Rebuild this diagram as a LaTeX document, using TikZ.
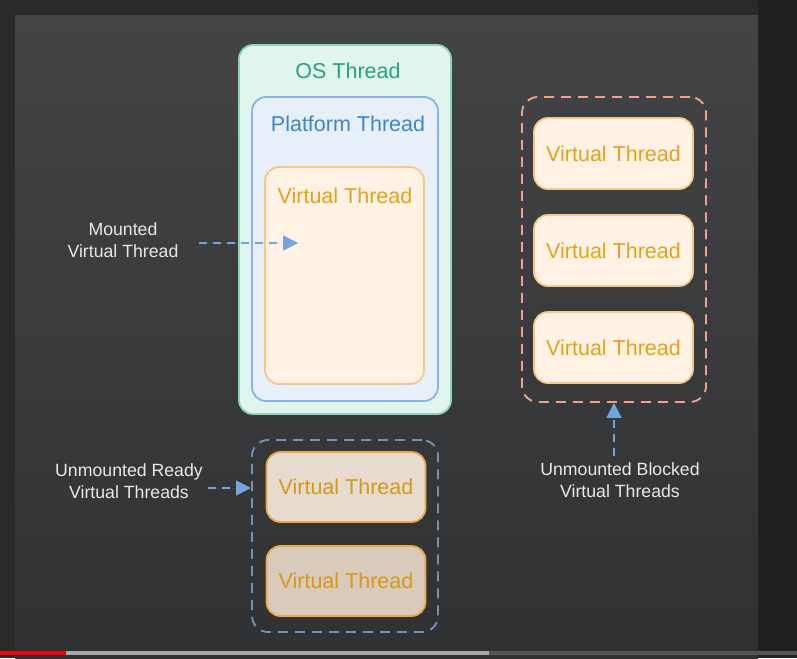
\documentclass[tikz,border=0pt]{standalone}
\usepackage{fontspec}
\setmainfont{Liberation Sans}
\usepackage{tikz}
\usetikzlibrary{arrows.meta}

\definecolor{outerbg}{HTML}{2A2A2A}
\definecolor{sidebg}{HTML}{212121}
\definecolor{slidetop}{HTML}{434445}
\definecolor{slidebot}{HTML}{303132}
\definecolor{osfill}{HTML}{E2F4EE}
\definecolor{osline}{HTML}{8FD3B8}
\definecolor{ostext}{HTML}{26A37A}
\definecolor{pffill}{HTML}{E7EFFA}
\definecolor{pfline}{HTML}{89B4E4}
\definecolor{pftext}{HTML}{3D87C9}
\definecolor{vtfill}{HTML}{FFF2E5}
\definecolor{vtline}{HTML}{F6C785}
\definecolor{vttext}{HTML}{E3A21A}
\definecolor{rdfill}{HTML}{E7DBCF}
\definecolor{rdfilltwo}{HTML}{D9CABB}
\definecolor{rdline}{HTML}{E6A84A}
\definecolor{rdtext}{HTML}{D49A18}
\definecolor{readydash}{HTML}{7191B5}
\definecolor{blockdash}{HTML}{E9A58C}
\definecolor{notetext}{HTML}{E8E8E8}
\definecolor{arrowblue}{HTML}{72A5DC}
\definecolor{barred}{HTML}{FF0000}
\definecolor{bargray}{HTML}{A8A8A8}
\definecolor{bardark}{HTML}{555555}

\tikzset{
	box/.style={draw, line width=1.8pt, rounded corners=14pt, inner sep=0pt},
	vthread/.style={box, draw=vtline, fill=vtfill, minimum width=159pt, minimum height=71pt,
		text=vttext, font=\fontsize{21.5}{25}\selectfont},
	rthread/.style={vthread, draw=rdline, fill=rdfill, text=rdtext},
	group/.style={draw, line width=1.9pt, dash pattern=on 10pt off 7pt, rounded corners=16pt,
		inner sep=0pt},
	note/.style={text=notetext, align=center, font=\fontsize{17.7}{22}\selectfont},
	title/.style={font=\fontsize{21.5}{25}\selectfont},
	pointer/.style={draw=arrowblue, fill=arrowblue, line width=1.8pt, dash pattern=on 8pt off 6pt,
		-{Triangle[width=15pt,length=15pt]}}
}

\begin{document}
\begin{tikzpicture}[x=1pt, y=-1pt]
	\useasboundingbox (0,0) rectangle (797,658);
	% screen
	\fill[outerbg] (0,0) rectangle (797,658);
	\fill[sidebg] (758,0) rectangle (797,658);
	\shade[top color=slidetop, bottom color=slidebot] (15,16) rectangle (758,658);

	% mounted thread stack
	\node (os) at (345,229.5) [box, draw=osline, fill=osfill, minimum width=212, minimum height=369] {};
	\node (pf) at (345,249) [box, draw=pfline, fill=pffill, minimum width=186, minimum height=304] {};
	\node (vt) at (344.5,275.5) [vthread, minimum height=217] {};
	\node (ostitle) at (348,71) [title, text=ostext] {OS Thread};
	\node (pftitle) at (348,124) [title, text=pftext] {Platform Thread};
	\node (vttitle) at (345,196) [title, text=vttext] {Virtual Thread};

	\node (mlabel) at (123,240) [note] {Mounted\\Virtual Thread};
	\coordinate (mtip) at (298,243);
	\draw[pointer, shorten <=17pt] (mlabel.east |- mtip) -- (mtip);

	% ready threads
	\node (rgroup) at (345,536) [group, draw=readydash, minimum width=186, minimum height=192] {};
	\node (r1) at (346,487) [rthread, minimum height=70] {Virtual Thread};
	\node (r2) at (346,581) [rthread, fill=rdfilltwo, minimum height=70] {Virtual Thread};

	\node (rlabel) at (129,481) [note] {Unmounted Ready\\Virtual Threads};
	\coordinate (rtip) at (251,488);
	\draw[pointer, shorten <=2pt] (rlabel.east |- rtip) -- (rtip);

	% blocked threads
	\node (bgroup) at (614,249.5) [group, draw=blockdash, minimum width=184, minimum height=305] {};
	\node (b1) at (613.5,153.5) [vthread] {Virtual Thread};
	\node (b2) at (613.5,250.5) [vthread] {Virtual Thread};
	\node (b3) at (613.5,347.5) [vthread] {Virtual Thread};

	\node (blabel) at (620,480) [note] {Unmounted Blocked\\Virtual Threads};
	\draw[pointer, shorten <=3pt] (blabel.north -| bgroup.south) -- (bgroup.south);

	% player bar
	\fill[barred] (0,651) rectangle (66,655);
	\fill[bargray] (66,651) rectangle (489,655);
	\fill[bardark] (489,651) rectangle (797,655);
\end{tikzpicture}
\end{document}
